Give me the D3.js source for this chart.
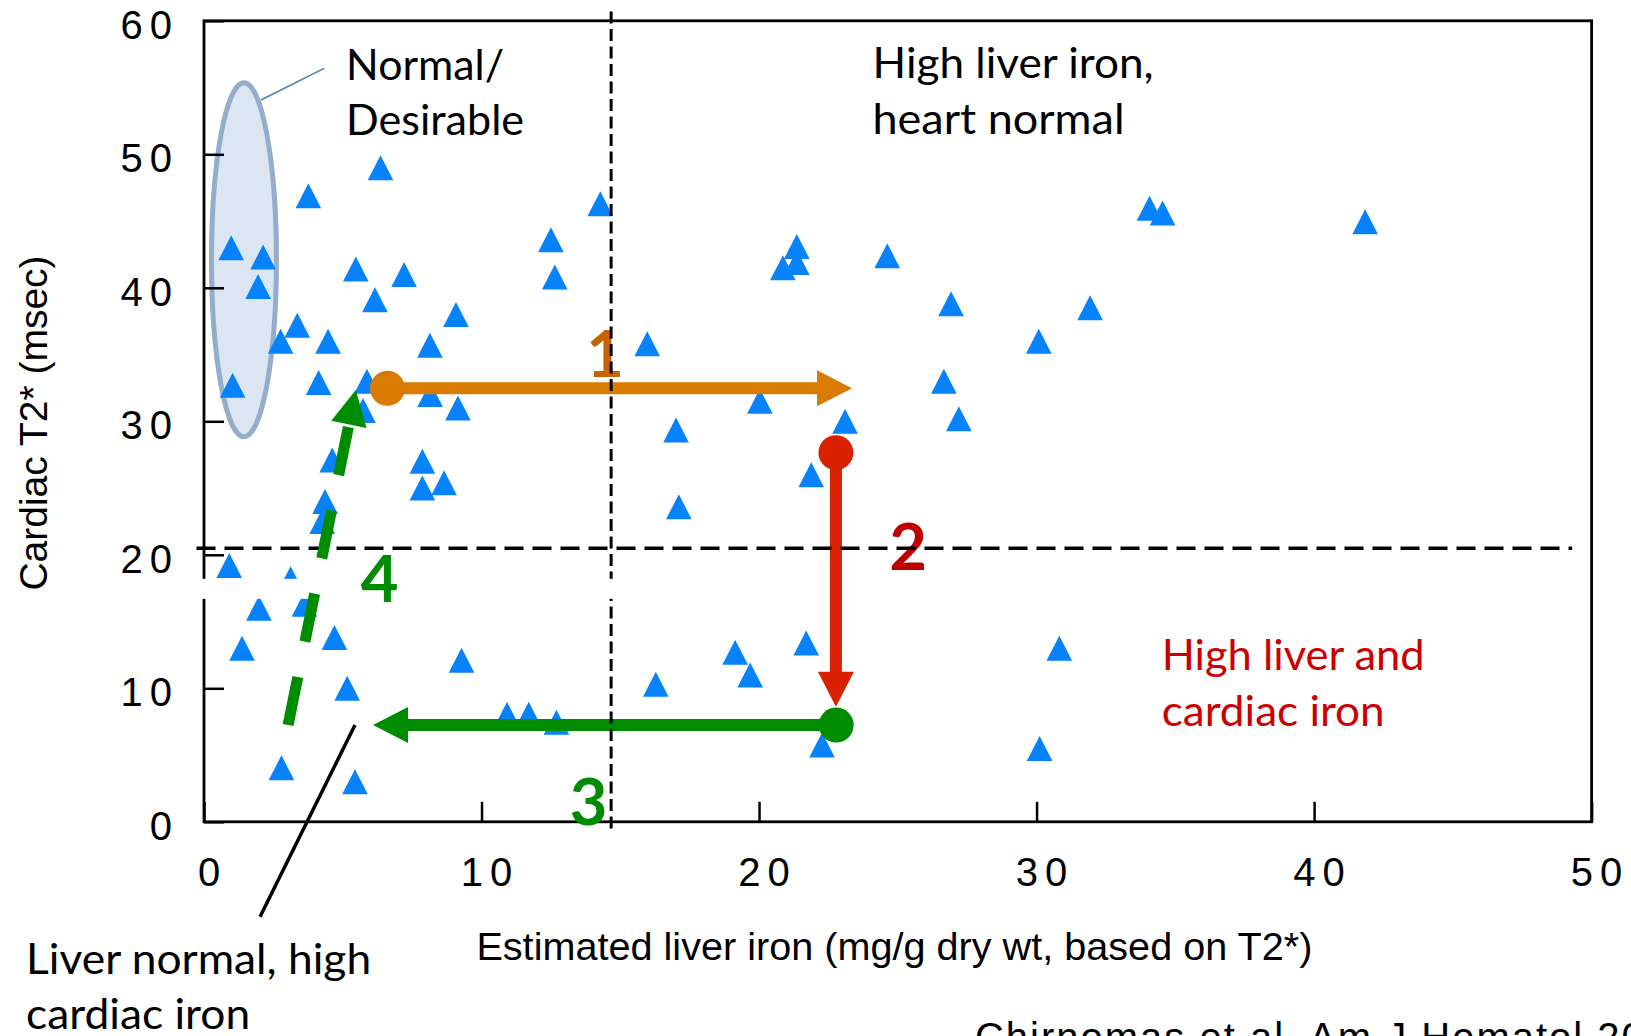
<!DOCTYPE html>
<html>
<head>
<meta charset="utf-8">
<script src="https://cdnjs.cloudflare.com/ajax/libs/d3/7.8.5/d3.min.js"></script>
<style>
    body { margin: 0; background: #fff; }
    svg { display: block; }
    .tick text { font-family: "Liberation Sans", Arial, sans-serif; font-size: 40px; letter-spacing: 7px; fill: #000; }
    .tick line { stroke: #000; stroke-width: 2.5; }
    .note { font-family: Lato, "Open Sans", sans-serif; font-size: 42px; }
    .step { font-family: Lato, sans-serif; font-weight: 700; font-size: 65px; }
</style>
</head>
<body>
<div id="chart"></div>
<script>
// one point per patient: liver iron (mg/g dry wt) and cardiac T2* (msec)
var liverIron = [0.98, 2.13, 1.95, 1.03, 3.76, 6.36, 14.28, 12.5, 12.64, 5.47, 7.21, 6.16, 9.08, 3.36,
    2.76, 4.47, 8.14, 4.13, 5.87, 8.15, 9.15, 5.73, 7.87, 7.87, 8.65, 4.62, 4.36, 4.26, 0.91, 3.12,
    3.62, 1.98, 1.37, 4.7, 5.16, 2.79, 5.44, 9.28, 10.92, 11.7, 12.7, 21.36, 21.36, 20.86, 24.62,
    34.07, 34.54, 26.92, 31.93, 15.97, 30.08, 26.66, 20.03, 23.1, 27.2, 17.01, 41.84, 21.88, 17.11,
    21.7, 19.14, 19.68, 16.28, 22.27, 30.11, 30.82];
var cardiacT2 = [43.0, 42.3, 40.1, 32.7, 46.9, 49.0, 46.3, 43.6, 40.8, 41.4, 41.0, 39.1, 38.0, 37.2,
    36.0, 36.0, 35.7, 32.9, 33.0, 32.0, 31.0, 30.8, 27.0, 25.0, 25.4, 27.1, 24.0, 22.5, 19.2, 18.2,
    16.3, 16.0, 13.0, 13.8, 10.0, 4.05, 3.0, 12.1, 8.05, 8.05, 7.45, 43.1, 41.9, 41.5, 42.4,
    45.95, 45.6, 38.8, 38.5, 35.8, 36.0, 33.0, 31.5, 30.0, 30.2, 29.35, 44.95, 26.0, 23.6,
    13.4, 12.7, 11.0, 10.3, 5.75, 5.5, 13.0];

var xTicks = [0, 10, 20, 30, 40, 50];
var yTicks = [0, 10, 20, 30, 40, 50, 60];
var liverCut = 14.67, heartCut = 20.5;

// treatment steps, in data units: start, end, label
var steps = ["1", "2", "3", "4"];
var stepFrom = [[6.61, 32.47], [22.77, 27.65], [22.78, 7.25], [3.03, 7.25]];
var stepTo = [[23.35, 32.47], [22.77, 8.62], [6.09, 7.25], [5.47, 32.34]];
var stepLabelAt = [[14.45, 33.35], [25.37, 18.86], [13.86, -0.24], [6.33, 16.49]];

// callouts
var noteLines = [["Normal/", "Desirable"], ["High liver iron,", "heart normal"],
    ["High liver and", "cardiac iron"], ["Liver normal, high", "cardiac iron"]];
var noteAt = [[5.12, 55.57], [24.09, 55.69], [34.51, 11.37], [-6.41, -11.4]];
var normalZone = [1.44, 42.1, 1.17, 13.26]; // cx, cy, rx, ry
var leaders = [[[2.05, 54.07], [4.33, 56.44]], [[5.44, 7.25], [2.02, -7.11]]];

var xTitle = "Estimated liver iron (mg/g dry wt, based on T2*)";
var yTitle = "Cardiac T2* (msec)";
var source = "Chirnomas et al. Am J Hematol 2008";

//------------------------------------------------------------------
var width = 1631, height = 1036;
var stepColors = ["#D97B00", "#D92100", "#008C00", "#008C00"];
var labelColors = ["#C86400", "#C00000", "#008C00", "#008C00"];
var noteColors = ["#000", "#000", "#CC0000", "#000"];
var noteWidths = [[158, 178], [281, 252], [263, 223], [345, 224]];

var svg = d3.select("#chart").append("svg")
        .attr("width", width)
        .attr("height", height);

var x = d3.scaleLinear().domain([0, 50]).range([204, 1591.6]);
var y = d3.scaleLinear().domain([0, 60]).range([821.8, 20.8]);

// normal zone ellipse + leader
svg.append("ellipse")
        .attr("cx", x(normalZone[0]))
        .attr("cy", y(normalZone[1]))
        .attr("rx", x(normalZone[0] + normalZone[2]) - x(normalZone[0]))
        .attr("ry", y(normalZone[1] - normalZone[3]) - y(normalZone[1]))
        .style("fill", "#DCE6F2")
        .style("stroke", "#93ADCA")
        .style("stroke-width", 5);

svg.append("line")
        .attr("x1", x(leaders[0][0][0])).attr("y1", y(leaders[0][0][1]))
        .attr("x2", x(leaders[0][1][0])).attr("y2", y(leaders[0][1][1]))
        .style("stroke", "#4A7EBB").style("stroke-width", 1.5);

// patients
svg.append("g").selectAll("path")
        .data(liverIron)
        .enter().append("path")
        .attr("d", "M0,-12.5L12.8,12.5L-12.8,12.5Z")
        .attr("transform", function (d, i) {
            return "translate(" + x(d) + "," + y(cardiacT2[i]) + ")";
        })
        .style("fill", "#0682FC");

// frame + axes
svg.append("rect")
        .attr("x", x(0)).attr("y", y(60))
        .attr("width", x(50) - x(0)).attr("height", y(0) - y(60))
        .style("fill", "none").style("stroke", "#000").style("stroke-width", 2.8);

var gx = svg.append("g")
        .attr("transform", "translate(0," + y(0) + ")")
        .call(d3.axisBottom(x).tickValues(xTicks).tickSize(-20).tickPadding(36).tickFormat(d3.format("d")));
gx.select(".domain").remove();
gx.selectAll(".tick text").attr("dx", 8);

var gy = svg.append("g")
        .attr("transform", "translate(" + x(0) + ",0)")
        .call(d3.axisLeft(y).tickValues(yTicks).tickSize(-20).tickPadding(25).tickFormat(d3.format("d")));
gy.select(".domain").remove();
gy.selectAll(".tick text").attr("dy", "0.44em");

svg.append("text")
        .attr("x", 476.4).attr("y", 960)
        .attr("textLength", 836).attr("lengthAdjust", "spacingAndGlyphs")
        .style("font-family", "'Liberation Sans', Arial, sans-serif")
        .style("font-size", "39px")
        .text(xTitle);

svg.append("text")
        .attr("transform", "translate(46.5,423) rotate(-90)")
        .attr("text-anchor", "middle")
        .style("font-family", "'Liberation Sans', Arial, sans-serif")
        .style("font-size", "39px")
        .text(yTitle);

// arrows
function arrowParts(p0, p1, headLen, headHalf) {
    var dx = p1[0] - p0[0], dy = p1[1] - p0[1], len = Math.sqrt(dx * dx + dy * dy);
    var ux = dx / len, uy = dy / len;
    var bx = p1[0] - ux * headLen, by = p1[1] - uy * headLen;
    return {
        end: [bx + ux * 2, by + uy * 2],
        head: "M" + p1[0] + "," + p1[1] +
              "L" + (bx - uy * headHalf) + "," + (by + ux * headHalf) +
              "L" + (bx + uy * headHalf) + "," + (by - ux * headHalf) + "Z"
    };
}

function drawStep(i) {
    var p0 = [x(stepFrom[i][0]), y(stepFrom[i][1])];
    var p1 = [x(stepTo[i][0]), y(stepTo[i][1])];
    var a = arrowParts(p0, p1, 35, 18);
    var g = svg.append("g");
    g.append("line")
            .attr("x1", p0[0]).attr("y1", p0[1])
            .attr("x2", a.end[0]).attr("y2", a.end[1])
            .style("stroke", stepColors[i])
            .style("stroke-width", i == 3 ? 11 : 12)
            .style("stroke-dasharray", i == 3 ? "49 36" : null);
    g.append("path").attr("d", a.head).style("fill", stepColors[i]);
    if (i < 3) {
        g.append("circle").attr("cx", p0[0]).attr("cy", p0[1]).attr("r", 17.5)
                .style("fill", stepColors[i]);
    }
    svg.append("text").attr("class", "step")
            .attr("x", x(stepLabelAt[i][0])).attr("y", y(stepLabelAt[i][1]))
            .attr("text-anchor", "middle")
            .style("fill", labelColors[i])
            .text(steps[i]);
}
drawStep(0);
drawStep(1);
drawStep(2);

// threshold lines
svg.append("line")
        .attr("x1", x(-0.27)).attr("x2", x(49.3))
        .attr("y1", y(heartCut)).attr("y2", y(heartCut))
        .style("stroke", "#000").style("stroke-width", 3.5).style("stroke-dasharray", "19 9");
svg.append("line")
        .attr("x1", x(liverCut)).attr("x2", x(liverCut))
        .attr("y1", y(60.7)).attr("y2", y(-0.5))
        .style("stroke", "#000").style("stroke-width", 3).style("stroke-dasharray", "12 5.5");

// white strip that cuts across the lower left of the plot
svg.append("rect")
        .attr("x", x(-0.5)).attr("y", y(18.2))
        .attr("width", x(15.5) - x(-0.5)).attr("height", y(16.7) - y(18.2))
        .style("fill", "#fff");

drawStep(3);

// leader to bottom-left note
svg.append("line")
        .attr("x1", x(leaders[1][0][0])).attr("y1", y(leaders[1][0][1]))
        .attr("x2", x(leaders[1][1][0])).attr("y2", y(leaders[1][1][1]))
        .style("stroke", "#000").style("stroke-width", 3.5);

noteLines.forEach(function (lines, i) {
    var t = svg.append("text").attr("class", "note").style("fill", noteColors[i]);
    lines.forEach(function (s, j) {
        t.append("tspan")
                .attr("x", x(noteAt[i][0]))
                .attr("y", y(noteAt[i][1]) + j * 55.5)
                .attr("textLength", noteWidths[i][j])
                .attr("lengthAdjust", "spacingAndGlyphs")
                .text(s);
    });
});

svg.append("text")
        .attr("x", x(27.78)).attr("y", y(-17.2))
        .style("font-family", "'Liberation Sans', Arial, sans-serif")
        .style("font-size", "40px")
        .style("letter-spacing", "2px")
        .text(source);
</script>
</body>
</html>
